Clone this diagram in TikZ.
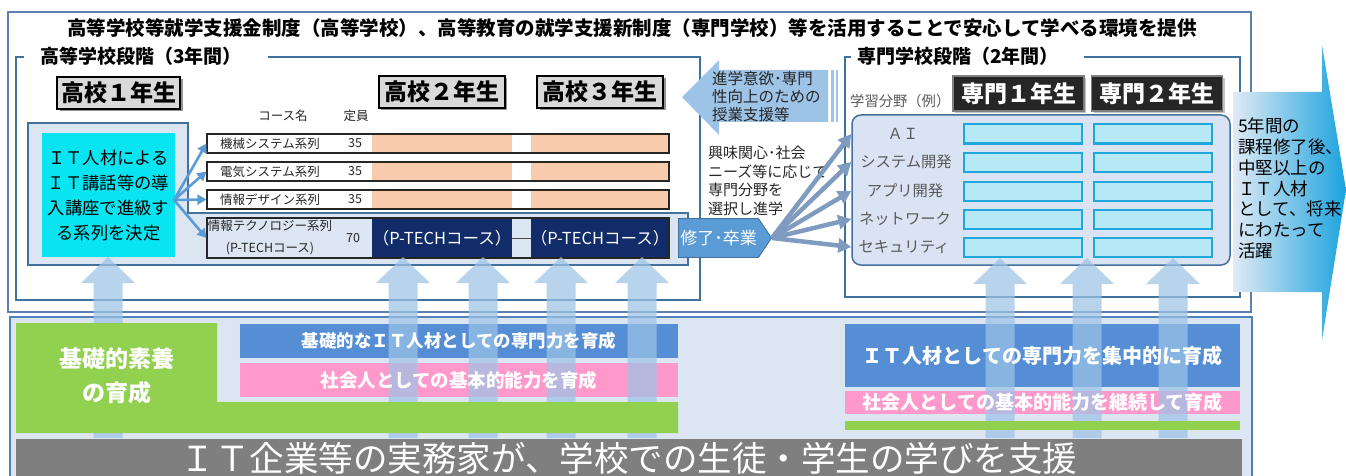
\documentclass[tikz,border=0pt]{standalone}
\usepackage{fontspec}
\setmainfont{Noto Sans CJK JP}
\usetikzlibrary{arrows.meta,shadows,shapes.symbols}
\newcommand\fsk[2]{\fontsize{#1}{#2}\selectfont}
\definecolor{frameblue}{RGB}{65,113,156}
\definecolor{outerblue}{RGB}{91,127,174}
\definecolor{panelfill}{RGB}{220,230,242}
\definecolor{panelborder}{RGB}{79,129,189}
\definecolor{lfill}{RGB}{220,230,242}
\definecolor{cyanbox}{RGB}{8,228,240}
\definecolor{salmon}{RGB}{248,203,173}
\definecolor{navy}{RGB}{17,44,105}
\definecolor{midblue}{RGB}{91,155,213}
\definecolor{fanblue}{RGB}{127,155,192}
\definecolor{arrowblue}{RGB}{157,195,230}
\definecolor{grnbox}{RGB}{146,208,80}
\definecolor{bluebox}{RGB}{85,142,213}
\definecolor{pinkbox}{RGB}{255,153,204}
\definecolor{bandgray}{RGB}{127,127,127}
\definecolor{cellcyan}{RGB}{183,232,246}
\definecolor{cellborder}{RGB}{31,166,218}
\definecolor{roundfill}{RGB}{218,227,243}
\definecolor{labelgray}{RGB}{89,89,89}
\definecolor{hdrgray}{RGB}{217,217,217}
\definecolor{darkhdr}{RGB}{38,38,38}
\definecolor{bigL}{RGB}{225,234,245}
\definecolor{bigR}{RGB}{27,163,222}
\definecolor{txtdark}{RGB}{38,38,38}
\tikzset{
  frame/.style={draw=frameblue, line width=1.5},
  outerframe/.style={draw=outerblue, line width=1.5},
  hdr/.style={draw=black, line width=2, fill=hdrgray, inner sep=0, minimum height=32,
    font=\bfseries\fsk{23}{26}, drop shadow={shadow xshift=2.5pt, shadow yshift=-2.5pt, fill=black!60, opacity=0.7}},
  dhdr/.style={draw=black!50, line width=1.5, fill=darkhdr, text=white, inner sep=0, minimum height=35,
    minimum width=131, font=\bfseries\fsk{23}{26}, drop shadow={shadow xshift=2pt, shadow yshift=-2pt, fill=black!40, opacity=0.6}},
  rowbox/.style={draw=black!85, line width=1.2, minimum width=462, inner sep=0},
  small/.style={font=\fsk{12.5}{14}, text=black!85, inner sep=0},
  navybox/.style={fill=navy, text=white, inner sep=0, minimum height=39, font=\fsk{16.5}{18}},
  cellbox/.style={fill=cellcyan, draw=cellborder, line width=2, minimum width=118, minimum height=19, inner sep=0},
  lbl/.style={font=\fsk{15.3}{17}, text=labelgray, inner sep=0},
  lfan/.style={draw=midblue, line width=2.6, -{Triangle[width=10pt,length=9pt]}},
  rfan/.style={draw=fanblue, line width=4.5, -{Triangle[width=14pt,length=13pt]}},
  uparrow/.style={fill=arrowblue, fill opacity=0.72},
  whitebold/.style={text=white, font=\bfseries, inner sep=0},
}
\newcommand\UpArr[3]{\fill[uparrow] (#1-14.5,#3) -- (#1-14.5,#2+26) -- (#1-27,#2+26) -- (#1,#2) -- (#1+27,#2+26) -- (#1+14.5,#2+26) -- (#1+14.5,#3) -- cycle;}
\begin{document}
\begin{tikzpicture}[x=1pt,y=-1pt]
\useasboundingbox (0,0) rectangle (1346,476);
% ---------- lower panel background
\draw[draw=panelborder, line width=2, fill=panelfill] (10,317) rectangle (1252,478);
% ---------- outer frame and title
\draw[outerframe] (8,12) rectangle (1251,312);
\node[font=\bfseries\fsk{19.5}{22}, inner sep=0] (title) at (632,28)
  {高等学校等就学支援金制度（高等学校）、高等教育の就学支援新制度（専門学校）等を活用することで安心して学べる環境を提供};
% ---------- high school frame
\draw[frame] (24,57) -- (16,57) -- (16,300) -- (700,300) -- (700,57) -- (268,57);
\node[anchor=west, font=\bfseries\fsk{19}{22}, inner sep=0] (hsTitle) at (40,56) {高等学校段階（3年間）};
% ---------- vocational frame
\draw[frame] (851,57) -- (845,57) -- (845,297) -- (1240,297) -- (1240,57) -- (1084,57);
\node[anchor=west, font=\bfseries\fsk{19}{22}, inner sep=0] (vsTitle) at (857,56) {専門学校段階（2年間）};
% ---------- grade headers
\node[hdr, minimum width=123] (k1) at (118.5,93) {高校１年生};
\node[hdr, minimum width=126] (k2) at (441.5,92) {高校２年生};
\node[hdr, minimum width=126] (k3) at (600,92) {高校３年生};
\node[small] (cname) at (283,116) {コース名};
\node[small] (cap) at (356,116) {定員};
% ---------- L-shaped area
\draw[draw=frameblue, line width=1.5, fill=lfill] (28,123) -- (188,123) -- (188,213) -- (688,213) -- (688,265) -- (28,265) -- cycle;
\node[fill=cyanbox, minimum width=133, minimum height=124, inner sep=0, align=center, font=\fsk{17.3}{25}] (cy) at (108.5,195)
  {ＩＴ人材による\\ＩＴ講話等の導\\入講座で進級す\\る系列を決定};
% course rows
\foreach \yc in {143.5,171.5,199.5} {
  \fill[white] (207,\yc-9.5) rectangle (669,\yc+9.5);
  \fill[salmon] (372,\yc-9.5) rectangle (512,\yc+9.5);
  \fill[salmon] (531,\yc-9.5) rectangle (669,\yc+9.5);
}
\node[rowbox, minimum height=19] (r1) at (438,143.5) {};
\node[rowbox, minimum height=19] (r2) at (438,171.5) {};
\node[rowbox, minimum height=19] (r3) at (438,199.5) {};
\node[small] (r1n) at (270,143.5) {機械システム系列};
\node[small] (r1c) at (355,143.5) {35};
\node[small] (r2n) at (270,171.5) {電気システム系列};
\node[small] (r2c) at (355,171.5) {35};
\node[small] (r3n) at (270,199.5) {情報デザイン系列};
\node[small] (r3c) at (355,199.5) {35};
\node[navybox, minimum width=140] (p1) at (442,238) {（P-TECHコース）};
\node[navybox, minimum width=138] (p2) at (600,238) {（P-TECHコース）};
\draw[black!70, line width=0.8] (p1.east) -- (p2.west);
\node[rowbox, minimum height=40] (r4) at (438,238) {};
\node[small] (r4n) at (270,226) {情報テクノロジー系列};
\node[small] (r4m) at (270,249) {(P-TECHコース)};
\node[small] (r4c) at (353,238) {70};
\coordinate (lfs) at (174,200);
\draw[lfan] (lfs) -- (r1.west);
\draw[lfan] (lfs) -- (r2.west);
\draw[lfan] (lfs) -- (r3.west);
\draw[lfan] (lfs) -- (r4.west);
% ---------- graduation arrow
\node[signal, signal to=east, signal pointer angle=112, fill=midblue, draw=frameblue, line width=0.8,
  minimum width=93, minimum height=39, inner sep=0, text=white, font=\fsk{17}{19}] (gt) at (718.5,238) {修了･卒業};
% ---------- text between frames
\node[anchor=north west, align=left, font=\fsk{15}{18.5}, inner sep=0, text=txtdark] (choose) at (708,146)
  {興味関心･社会\\ニーズ等に応じて\\専門分野を\\選択し進学};
% ---------- vocational content
\node[anchor=west, font=\fsk{14.3}{16}, text=labelgray, inner sep=0] (field) at (850,101) {学習分野（例）};
\node[dhdr] (s1) at (1018.5,93.5) {専門１年生};
\node[dhdr] (s2) at (1157,93.5) {専門２年生};
\node[fill=roundfill, draw=frameblue, line width=1.5, rounded corners=9, minimum width=378, minimum height=150, inner sep=0] (rb) at (1041,190) {};
\node[lbl] (l1) at (903,134) {ＡＩ};
\node[lbl] (l2) at (906,162) {システム開発};
\node[lbl] (l3) at (905,191) {アプリ開発};
\node[lbl] (l4) at (905,219) {ネットワーク};
\node[lbl] (l5) at (904,247) {セキュリティ};
\foreach \i/\yc in {1/134,2/162,3/191,4/219,5/247} {
  \node[cellbox] (ca\i) at (1022.5,\yc) {};
  \node[cellbox] (cb\i) at (1152.5,\yc) {};
}
\draw[rfan] (gt.east) -- (rb.west |- l1);
\draw[rfan] (gt.east) -- (rb.west |- l2);
\draw[rfan] (gt.east) -- (rb.west |- l3);
\draw[rfan] (gt.east) -- (rb.west |- l4);
\draw[rfan] (gt.east) -- (rb.west |- l5);
% ---------- lower panel boxes (under arrows)
\node[fill=bluebox, minimum width=438, minimum height=34, inner sep=0] (lb) at (459,341) {};
\node[fill=pinkbox, minimum width=438, minimum height=34, inner sep=0] (lp) at (459,380) {};
\node[fill=bluebox, minimum width=395, minimum height=63, inner sep=0] (rbb) at (1042.5,355.5) {};
\node[fill=pinkbox, minimum width=395, minimum height=23, inner sep=0] (rpb) at (1042.5,402.5) {};
% ---------- up arrows
\UpArr{108}{257}{438}
\UpArr{403}{257}{438}
\UpArr{483}{257}{438}
\UpArr{561}{257}{438}
\UpArr{642}{257}{438}
\UpArr{1000}{258}{438}
\UpArr{1087}{258}{438}
\UpArr{1173}{258}{438}
% ---------- lower panel texts and opaque boxes
\node[whitebold, font=\bfseries\fsk{17.5}{20}] (lbt) at (lb) {基礎的なＩＴ人材としての専門力を育成};
\node[whitebold, font=\bfseries\fsk{18.5}{20}] (lpt) at (lp) {社会人としての基本的能力を育成};
\node[whitebold, font=\bfseries\fsk{20}{22}] (rbt) at (rbb) {ＩＴ人材としての専門力を集中的に育成};
\node[whitebold, font=\bfseries\fsk{19}{21}] (rpt) at (rpb) {社会人としての基本的能力を継続して育成};
\fill[grnbox] (16,323) -- (217,323) -- (217,402) -- (678,402) -- (678,433) -- (16,433) -- cycle;
\node[whitebold, align=center, font=\bfseries\fsk{23}{34}] (gtxt) at (117,376) {基礎的素養\\の育成};
\fill[grnbox] (845,421) rectangle (1240,430);
\node[fill=bandgray, minimum width=1226, minimum height=38, inner sep=0, text=white, font=\fsk{34.5}{36}] (band) at (629,458)
  {ＩＴ企業等の実務家が、学校での生徒・学生の学びを支援};
% ---------- striped left arrow
\fill[arrowblue] (682,97) -- (719,60) -- (719,70) -- (828,70) -- (828,122) -- (719,122) -- (719,135) -- cycle;
\fill[arrowblue] (831,70) rectangle (834,122);
\fill[arrowblue] (836,70) rectangle (838,122);
\node[anchor=north west, align=left, font=\fsk{15.5}{18}, inner sep=0, text=txtdark] (support) at (712,71)
  {進学意欲･専門\\性向上のための\\授業支援等};
% ---------- big right arrow
\shade[left color=bigL, right color=bigR] (1233,92) -- (1322,92) -- (1322,45) -- (1346,190) -- (1322,340) -- (1322,292) -- (1233,292) -- cycle;
\node[anchor=north west, align=left, font=\fsk{17.5}{20.7}, inner sep=0, text=black] (career) at (1238,118)
  {5年間の\\課程修了後、\\中堅以上の\\ＩＴ人材\\として、将来\\にわたって\\活躍};
\end{tikzpicture}
\end{document}
